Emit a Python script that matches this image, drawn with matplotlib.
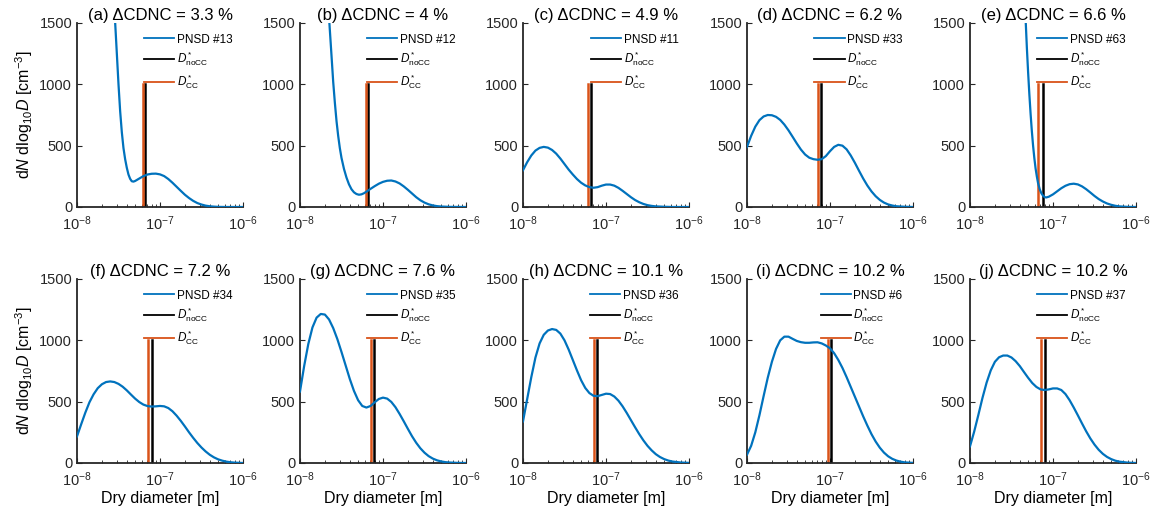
import numpy as np
import matplotlib
matplotlib.use("Agg")
import matplotlib.pyplot as plt

plt.rcParams['font.family'] = ['Liberation Sans', 'DejaVu Sans']
plt.rcParams['mathtext.fontset'] = 'custom'
plt.rcParams['mathtext.rm'] = 'Liberation Sans'
plt.rcParams['mathtext.it'] = 'Liberation Sans:italic'
plt.rcParams['mathtext.bf'] = 'Liberation Sans:bold'

# panel titles / legend ids
panel_tags = ['(a)', '(b)', '(c)', '(d)', '(e)', '(f)', '(g)', '(h)', '(i)', '(j)']
dcdnc = ['3.3', '4', '4.9', '6.2', '6.6', '7.2', '7.6', '10.1', '10.2', '10.2']
pnsd_ids = [13, 12, 11, 33, 63, 34, 35, 36, 6, 37]

# critical diameters (log10 of m)
logd_cc = [-7.205, -7.207, -7.214, -7.143, -7.175, -7.139, -7.147, -7.147, -7.026, -7.143]
logd_nocc = [-7.180, -7.175, -7.185, -7.103, -7.123, -7.091, -7.103, -7.103, -6.982, -7.095]

# PNSD curves: log10(D [m]) and dN/dlog10D [cm-3]
logd_a = [-7.54, -7.52, -7.50, -7.48, -7.46, -7.44, -7.42, -7.40, -7.38, -7.36, -7.34, -7.32,
          -7.30, -7.25, -7.20, -7.15, -7.10, -7.05, -7.00, -6.95, -6.90, -6.85, -6.80, -6.75,
          -6.70, -6.65, -6.60, -6.55, -6.50, -6.45, -6.40, -6.35, -6.30, -6.2, -6.0]
pnsd_a = [1500, 1250, 1000, 780, 610, 480, 390, 320, 265, 230, 210, 207,
          212, 232, 252, 265, 271, 272, 266, 252, 228, 198, 165, 132,
          100, 73, 50, 32, 20, 11, 6, 3, 1, 0, 0]

logd_b = [-7.646, -7.62, -7.60, -7.58, -7.56, -7.54, -7.52, -7.50, -7.47, -7.44, -7.41, -7.38,
          -7.35, -7.32, -7.29, -7.26, -7.23, -7.20, -7.15, -7.10, -7.05, -7.00, -6.95, -6.90,
          -6.85, -6.80, -6.75, -6.70, -6.65, -6.60, -6.55, -6.50, -6.45, -6.40, -6.35, -6.30,
          -6.2, -6.0]
pnsd_b = [1500, 1230, 1020, 850, 700, 580, 480, 400, 310, 240, 185, 145,
          120, 106, 100, 103, 112, 125, 148, 170, 190, 205, 214, 216,
          208, 192, 168, 140, 110, 80, 55, 36, 22, 13, 7, 4,
          1, 0]

logd_c = [-8.0, -7.95, -7.90, -7.85, -7.80, -7.75, -7.70, -7.65, -7.60, -7.55, -7.50, -7.45,
          -7.40, -7.35, -7.30, -7.25, -7.20, -7.15, -7.10, -7.05, -7.00, -6.95, -6.90, -6.85,
          -6.80, -6.75, -6.70, -6.65, -6.60, -6.55, -6.50, -6.45, -6.40, -6.30, -6.2, -6.0]
pnsd_c = [300, 365, 420, 460, 482, 490, 484, 465, 435, 395, 350, 305,
          265, 228, 198, 176, 162, 157, 162, 174, 183, 183, 174, 156,
          132, 106, 80, 57, 39, 25, 15, 9, 5, 2, 0, 0]

logd_d = [-8.0, -7.95, -7.90, -7.85, -7.80, -7.75, -7.70, -7.65, -7.60, -7.55, -7.50, -7.45,
          -7.40, -7.35, -7.30, -7.25, -7.20, -7.15, -7.10, -7.05, -7.00, -6.95, -6.90, -6.85,
          -6.80, -6.75, -6.70, -6.65, -6.60, -6.55, -6.50, -6.45, -6.40, -6.35, -6.30, -6.25,
          -6.20, -6.10, -6.0]
pnsd_d = [490, 580, 655, 708, 738, 750, 748, 735, 710, 672, 625, 572,
          518, 468, 428, 402, 390, 385, 390, 415, 455, 490, 507, 500,
          470, 420, 360, 295, 232, 175, 127, 88, 58, 36, 21, 12,
          6, 2, 0]

logd_e = [-7.328, -7.315, -7.30, -7.285, -7.27, -7.255, -7.24, -7.225, -7.21, -7.195, -7.18, -7.16,
          -7.14, -7.12, -7.10, -7.08, -7.05, -7.00, -6.95, -6.90, -6.85, -6.80, -6.75, -6.70,
          -6.65, -6.60, -6.55, -6.50, -6.45, -6.40, -6.35, -6.30, -6.25, -6.20, -6.10, -6.0]
pnsd_e = [1500, 1300, 1100, 920, 760, 620, 500, 400, 315, 250, 195, 145,
          112, 92, 80, 78, 84, 103, 128, 153, 173, 186, 190, 184,
          168, 145, 118, 90, 65, 45, 29, 18, 10, 5, 1, 0]

logd_f = [-8.0, -7.95, -7.90, -7.85, -7.80, -7.75, -7.70, -7.65, -7.60, -7.55, -7.50, -7.45,
          -7.40, -7.35, -7.30, -7.25, -7.20, -7.15, -7.10, -7.05, -7.00, -6.95, -6.90, -6.85,
          -6.80, -6.75, -6.70, -6.65, -6.60, -6.55, -6.50, -6.45, -6.40, -6.35, -6.30, -6.25,
          -6.20, -6.15, -6.10, -6.0]
pnsd_f = [217, 315, 410, 495, 560, 610, 642, 660, 665, 660, 645, 622,
          592, 558, 525, 497, 476, 464, 460, 462, 465, 462, 448, 422,
          386, 344, 298, 250, 205, 163, 126, 94, 67, 46, 30, 19,
          11, 6, 3, 0]

logd_g = [-8.0, -7.95, -7.90, -7.85, -7.80, -7.75, -7.70, -7.65, -7.60, -7.55, -7.50, -7.45,
          -7.40, -7.35, -7.30, -7.25, -7.20, -7.15, -7.10, -7.05, -7.00, -6.95, -6.90, -6.85,
          -6.80, -6.75, -6.70, -6.65, -6.60, -6.55, -6.50, -6.45, -6.40, -6.35, -6.30, -6.25,
          -6.20, -6.10, -6.0]
pnsd_g = [583, 790, 970, 1105, 1185, 1215, 1210, 1170, 1100, 1010, 905, 795,
          685, 588, 512, 465, 452, 465, 495, 522, 533, 525, 498, 455,
          400, 340, 278, 218, 165, 120, 84, 56, 36, 22, 13, 7,
          4, 1, 0]

logd_h = [-8.0, -7.95, -7.90, -7.85, -7.80, -7.75, -7.70, -7.65, -7.60, -7.55, -7.50, -7.45,
          -7.40, -7.35, -7.30, -7.25, -7.20, -7.15, -7.10, -7.05, -7.00, -6.95, -6.90, -6.85,
          -6.80, -6.75, -6.70, -6.65, -6.60, -6.55, -6.50, -6.45, -6.40, -6.35, -6.30, -6.25,
          -6.20, -6.10, -6.0]
pnsd_h = [339, 520, 700, 860, 975, 1045, 1080, 1092, 1085, 1055, 1000, 925,
          840, 755, 675, 612, 570, 548, 545, 555, 565, 562, 542, 508,
          462, 408, 350, 292, 236, 185, 140, 103, 72, 49, 32, 20,
          12, 4, 1]

logd_i = [-8.0, -7.95, -7.90, -7.85, -7.80, -7.75, -7.70, -7.65, -7.60, -7.55, -7.50, -7.45,
          -7.40, -7.35, -7.30, -7.25, -7.20, -7.15, -7.10, -7.05, -7.00, -6.95, -6.90, -6.85,
          -6.80, -6.75, -6.70, -6.65, -6.60, -6.55, -6.50, -6.45, -6.40, -6.35, -6.30, -6.25,
          -6.20, -6.15, -6.10, -6.0]
pnsd_i = [68, 140, 250, 390, 545, 695, 825, 930, 1000, 1030, 1030, 1012,
          995, 985, 980, 980, 983, 984, 975, 958, 935, 895, 840, 775,
          700, 620, 540, 460, 380, 305, 235, 175, 125, 85, 55, 34,
          20, 11, 5, 1]

logd_j = [-8.0, -7.95, -7.90, -7.85, -7.80, -7.75, -7.70, -7.65, -7.60, -7.55, -7.50, -7.45,
          -7.40, -7.35, -7.30, -7.25, -7.20, -7.15, -7.10, -7.05, -7.00, -6.95, -6.90, -6.85,
          -6.80, -6.75, -6.70, -6.65, -6.60, -6.55, -6.50, -6.45, -6.40, -6.35, -6.30, -6.25,
          -6.20, -6.10, -6.0]
pnsd_j = [136, 255, 390, 530, 655, 755, 825, 862, 876, 876, 860, 830,
          790, 742, 695, 652, 620, 600, 595, 600, 608, 608, 595, 562,
          512, 452, 388, 322, 258, 200, 150, 108, 75, 50, 32, 19,
          11, 3, 0]

curves_logd = [logd_a, logd_b, logd_c, logd_d, logd_e, logd_f, logd_g, logd_h, logd_i, logd_j]
curves_pnsd = [pnsd_a, pnsd_b, pnsd_c, pnsd_d, pnsd_e, pnsd_f, pnsd_g, pnsd_h, pnsd_i, pnsd_j]

blue = '#0072BD'
orange = '#D95319'
spine_col = '#262626'

W, H = 1159, 515
fig = plt.figure(figsize=(W / 100, H / 100), dpi=100)

lefts = [77, 300, 523, 747, 970]
tops = [23, 279]
aw, ah = 166, 184

for k in range(10):
    row, col = divmod(k, 5)
    x0 = lefts[col]
    y0 = tops[row]
    ax = fig.add_axes([x0 / W, (H - y0 - ah) / H, aw / W, ah / H])

    d = 10 ** np.array(curves_logd[k])
    ax.plot(d, curves_pnsd[k], color=blue, lw=1.6, label=f'PNSD #{pnsd_ids[k]}', zorder=3)
    ax.plot([10 ** logd_nocc[k]] * 2, [0, 1000], color='black', lw=1.8,
            label=r'$D^*_{\rm noCC}$', zorder=2)
    ax.plot([10 ** logd_cc[k]] * 2, [0, 1000], color=orange, lw=1.8,
            label=r'$D^*_{\rm CC}$', zorder=2)

    ax.set_xscale('log')
    ax.set_xlim(1e-8, 1e-6)
    ax.set_ylim(0, 1500)
    ax.set_yticks([0, 500, 1000, 1500])
    ax.set_xticks([1e-8, 1e-7, 1e-6])

    for s in ['top', 'right']:
        ax.spines[s].set_visible(False)
    for s in ['left', 'bottom']:
        ax.spines[s].set_color(spine_col)
        ax.spines[s].set_linewidth(1.3)
    ax.tick_params(which='both', direction='in', colors=spine_col, labelsize=10.5,
                   labelcolor='#262626')
    ax.tick_params(which='major', length=3.5, width=0.8)
    ax.tick_params(which='minor', length=2, width=0.6)
    ax.tick_params(axis='x', pad=5)

    ax.set_title(f'{panel_tags[k]} \u0394CDNC = {dcdnc[k]} %', fontsize=12, pad=2)

    if col == 0:
        ax.set_ylabel(r'd$N$ dlog$_{10}$$D$ [cm$^{-3}$]', fontsize=11.5, labelpad=3)
    if row == 1:
        ax.set_xlabel('Dry diameter [m]', fontsize=11.5, labelpad=2)

    leg = ax.legend(loc='upper right', bbox_to_anchor=(1.0, 1.0), frameon=False,
                    fontsize=8.5, handlelength=2.55, handletextpad=0.2,
                    labelspacing=0.35, borderpad=0.2, borderaxespad=0.7)
    for h in leg.get_lines():
        h.set_linewidth(1.3)

fig.savefig('out.png', dpi=100)
